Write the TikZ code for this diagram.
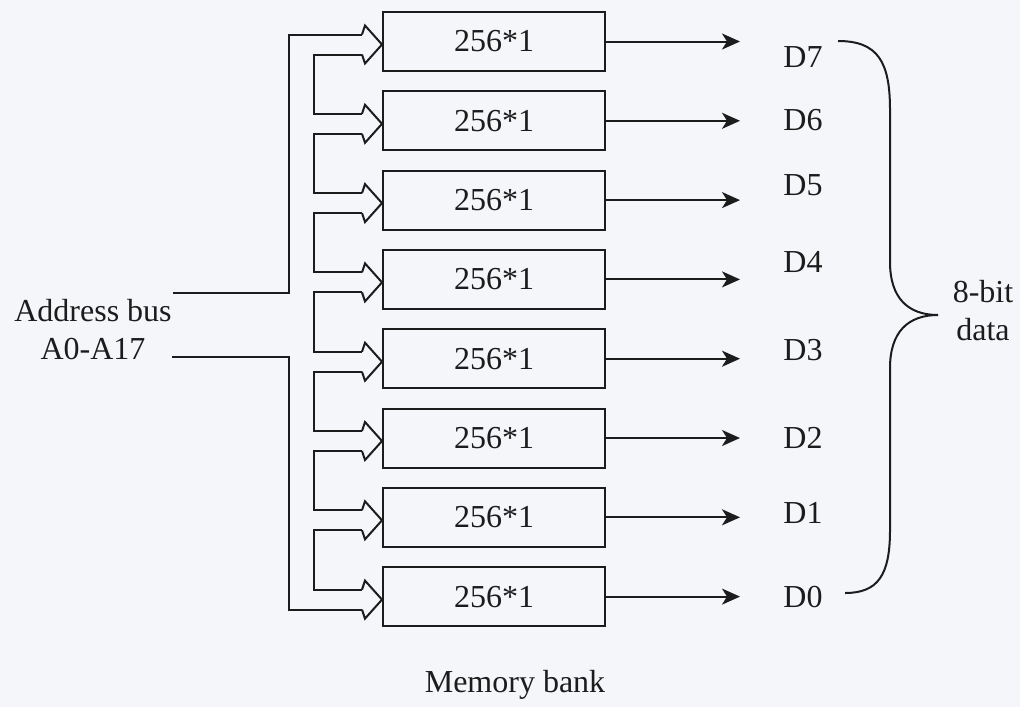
\documentclass[tikz,border=0pt]{standalone}
\usepackage{fontspec}
\setmainfont{Liberation Serif}
\usepackage{xcolor}
\usetikzlibrary{arrows.meta,calc,positioning}
\definecolor{inkmain}{HTML}{1C1C1C}
\definecolor{paperbg}{HTML}{F4F6F9}
\tikzset{every node/.append style={font=\fontsize{16}{19}\selectfont,text=inkmain}}

\begin{document}
\begin{tikzpicture}[x=0.5pt,y=-0.5pt,>={Stealth[length=9pt,width=8pt,inset=2.5pt]},
  membox/.style={draw=inkmain,line width=1pt,minimum width=111pt,minimum height=29.5pt,inner sep=0pt},
  busline/.style={draw=inkmain,line width=1pt},
  dataarrow/.style={->,draw=inkmain,line width=1pt,shorten >=21.5pt}]
  \fill[paperbg] (0,0) rectangle (1020,707);
  \useasboundingbox (0,0) rectangle (1020,707);
  \coordinate (bx) at (289,0);
  \coordinate (ix) at (314,0);
  % memory chips
  \foreach \k in {1,...,8}
    \node[membox] (m\k) at (494,{41.5+79.3*(\k-1)}) {256*1};
  % bus arrows into the chips
  \foreach \k in {1,...,8} {
    \coordinate (t\k) at ($(m\k.west)+(0,3)$);
    \coordinate (u\k) at ($(m\k.west)+(-20,-7)$);
    \coordinate (l\k) at ($(m\k.west)+(-20,13)$);
    \draw[busline] (u\k) -- ++(3,-9) -- (t\k) -- ($(l\k)+(3,9)$) -- (l\k);
  }
  \foreach \k [count=\n from 2] in {1,...,7}
    \draw[busline] (l\k) -- (l\k -| ix) -- (u\n -| ix) -- (u\n);
  % address bus
  \node[align=center,inner sep=0pt] (addr) at (93,330) {Address bus\\A0-A17};
  \coordinate (a1) at (173,293);
  \coordinate (a2) at (172,357);
  \draw[busline] (u1) -- (u1 -| bx) -- (a1 -| bx) -- (a1);
  \draw[busline] (a2) -- (a2 -| bx) -- (l8 -| bx) -- (l8);
  % data lines
  \foreach \k/\b/\y in {1/7/57,2/6/120,3/5/185,4/4/262,5/3/350,6/2/438,7/1/513,8/0/597} {
    \node[anchor=west,inner sep=0pt] (d\b) at (783,\y) {D\b};
    \draw[dataarrow] (m\k.east) -- (m\k.east -| d\b.west);
  }
  \draw[line width=1pt,inkmain] (838,41) .. controls (878,41) and (890,62) .. (890,110)
    -- (890,262) .. controls (890,298) and (908,315) .. (938,315)
    .. controls (908,315) and (890,332) .. (890,368)
    -- (890,530) .. controls (890,575) and (878,593) .. (845,593);
  \node[align=center,inner sep=0pt] (width) at (983,311) {8-bit\\data};
  \node[inner sep=0pt] (bank) at (515,685) {Memory bank};
\end{tikzpicture}
\end{document}
